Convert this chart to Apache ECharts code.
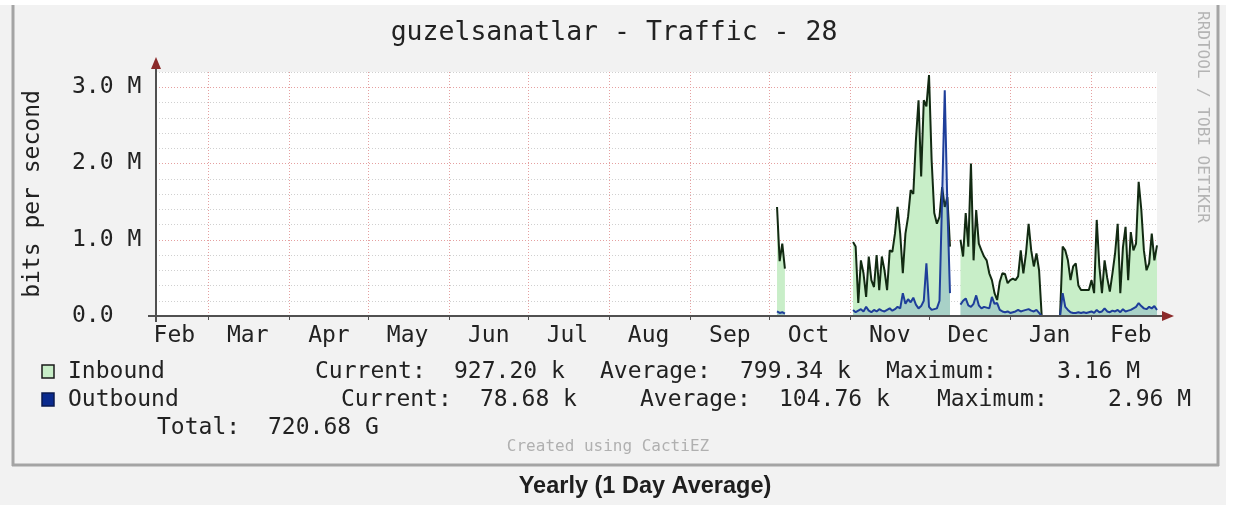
<!DOCTYPE html>
<html lang="en">
  <head>
    <meta charset="utf-8" />
    <title>guzelsanatlar - Traffic - 28</title>
    <style>
      html, body { margin: 0; padding: 0; background: #ffffff; }
      #chart-container { width: 1249px; height: 507px; }
    </style>
  </head>
  <body>
    <div id="chart-container"></div>
    <script src="https://cdn.jsdelivr.net/npm/echarts@6/dist/echarts.min.js"></script>
    <script>
      // one category per day, Feb 9 2013 .. Feb 26 2014
      var startDate = "2013-02-09";
      var dayCount = 383;
      var monthNames = ["Jan", "Feb", "Mar", "Apr", "May", "Jun", "Jul", "Aug", "Sep", "Oct", "Nov", "Dec"];

      // daily averages in Mbit/s, one array per stretch of data
      var inOct = [1.43, 0.72, 0.95, 0.62];
      var outOct = [0.06, 0.04, 0.05, 0.03];

      var inNov = [0.97, 0.91, 0.17, 0.73, 0.56, 0.25, 0.78, 0.47, 0.38, 0.80,
                   0.34, 0.78, 0.60, 0.34, 0.86, 0.84, 1.08, 1.43, 1.08, 0.56,
                   1.08, 1.30, 1.65, 1.60, 2.31, 2.83, 1.83, 2.83, 2.75, 3.16,
                   2.04, 1.35, 1.21, 1.30, 1.69, 1.43, 1.56, 0.91];
      var outNov = [0.08, 0.05, 0.07, 0.09, 0.06, 0.12, 0.07, 0.05, 0.08, 0.06,
                    0.09, 0.07, 0.06, 0.08, 0.10, 0.07, 0.09, 0.12, 0.10, 0.30,
                    0.16, 0.22, 0.18, 0.24, 0.15, 0.10, 0.13, 0.20, 0.69, 0.12,
                    0.08, 0.09, 0.10, 0.20, 1.55, 2.96, 1.45, 0.30];

      var inDec = [1.00, 0.78, 1.35, 0.91, 2.00, 0.73, 1.39, 0.95, 0.86, 0.78,
                   0.73, 0.56, 0.47, 0.30, 0.21, 0.45, 0.56, 0.55, 0.43, 0.47,
                   0.49, 0.47, 0.52, 0.86, 0.56, 0.82, 1.21, 0.86, 0.65, 0.82,
                   0.60, 0, 0, 0, 0, 0, 0, 0, 0];
      var outDec = [0.15, 0.20, 0.23, 0.14, 0.12, 0.16, 0.27, 0.14, 0.10, 0.12,
                    0.11, 0.10, 0.25, 0.16, 0.17, 0.08, 0.06, 0.05, 0.06, 0.04,
                    0.05, 0.06, 0.08, 0.06, 0.07, 0.08, 0.09, 0.07, 0.06, 0.08,
                    0.04, 0, 0, 0, 0, 0, 0, 0, 0];

      var inJan = [0.91, 0.86, 0.73, 0.47, 0.65, 0.69, 0.40, 0.34, 0.34, 0.34,
                   0.34, 0.47, 0.30, 1.26, 0.65, 0.30, 0.73, 0.50, 0.32, 0.56,
                   0.82, 1.21, 0.30, 0.90, 1.17, 0.47, 1.10, 0.86, 0.95, 1.76,
                   1.40, 0.86, 0.60, 0.69, 1.08, 0.73, 0.927];
      var outJan = [0.30, 0.12, 0.08, 0.05, 0.04, 0.04, 0.05, 0.04, 0.05, 0.04,
                    0.05, 0.06, 0.04, 0.08, 0.05, 0.06, 0.10, 0.06, 0.05, 0.07,
                    0.06, 0.08, 0.05, 0.09, 0.06, 0.07, 0.08, 0.10, 0.12, 0.17,
                    0.13, 0.10, 0.09, 0.12, 0.10, 0.13, 0.0787];

      var segmentStarts = ["2013-10-04", "2013-11-02", "2013-12-13", "2014-01-21"];

      var inboundStats = ["927.20 k", "799.34 k", "3.16 M"];
      var outboundStats = ["78.68 k", "104.76 k", "2.96 M"];
      var totalText = "720.68 G";

      var days = [];
      var t0 = Date.UTC(2013, 1, 9);
      for (var i = 0; i < dayCount; i++) {
        days.push(new Date(t0 + i * 86400000).toISOString().slice(0, 10));
      }

      function place(target, start, values) {
        var i0 = days.indexOf(start);
        for (var k = 0; k < values.length; k++) target[i0 + k] = values[k];
      }
      var inbound = days.map(function () { return "-"; });
      var outbound = days.map(function () { return "-"; });
      [inOct, inNov, inDec, inJan].forEach(function (v, k) { place(inbound, segmentStarts[k], v); });
      [outOct, outNov, outDec, outJan].forEach(function (v, k) { place(outbound, segmentStarts[k], v); });

      var mono = "DejaVu Sans Mono";
      var textColor = "#222222";
      var axisGray = "#505050";
      var arrowRed = "#8b2b2b";
      function isMonthStart(idx, val) { return val.slice(8) === "01"; }
      function legendText(x, y, text) {
        return { type: "text", x: x, y: y, style: { text: text, fill: textColor, font: "23px '" + mono + "'", verticalAlign: "middle" } };
      }

      var dom = document.getElementById("chart-container");
      var myChart = echarts.init(dom, null, { renderer: "canvas" });

      var option = {
        animation: false,
        backgroundColor: "transparent",
        grid: {
          left: 156, right: 92, top: 72, bottom: 191,
          show: true, backgroundColor: "#ffffff", borderWidth: 0
        },
        xAxis: {
          type: "category",
          data: days,
          boundaryGap: false,
          axisLine: { show: false },
          axisTick: { show: true, interval: isMonthStart, length: 4, lineStyle: { color: axisGray } },
          splitLine: { show: true, interval: isMonthStart, lineStyle: { color: "#e5a0a0", type: [1, 2], width: 1 } },
          axisLabel: {
            interval: function (idx, val) { return val.slice(8) === "16"; },
            formatter: function (val) { return monthNames[+val.slice(5, 7) - 1]; },
            color: textColor, fontFamily: mono, fontSize: 23, margin: 9
          }
        },
        yAxis: {
          type: "value",
          min: 0, max: 3.2, interval: 0.2,
          name: "bits per second",
          nameLocation: "middle",
          nameRotate: 90,
          nameGap: 111,
          nameTextStyle: { color: textColor, fontFamily: mono, fontSize: 23 },
          axisLine: { show: false },
          axisTick: { show: false },
          splitLine: {
            show: true,
            lineStyle: { color: ["#e5a0a0", "#d0d0d0", "#d0d0d0", "#d0d0d0", "#d0d0d0"], type: [1, 2], width: 1 }
          },
          axisLabel: {
            align: "left", margin: 84,
            color: textColor, fontFamily: mono, fontSize: 23,
            formatter: function (v) {
              var m = Math.round(v);
              if (Math.abs(v - m) > 1e-6) return "";
              return m === 0 ? "0.0" : m.toFixed(1) + " M";
            }
          }
        },
        series: [
          {
            name: "Inbound",
            type: "line",
            data: inbound,
            showSymbol: false,
            connectNulls: false,
            z: 2,
            lineStyle: { color: "#122a12", width: 2 },
            areaStyle: { color: "#c8eec8", opacity: 1 }
          },
          {
            name: "Outbound",
            type: "line",
            data: outbound,
            showSymbol: false,
            connectNulls: false,
            z: 3,
            lineStyle: { color: "#1e3e9a", width: 2 },
            areaStyle: { color: "rgba(40, 90, 200, 0.28)" }
          }
        ],
        graphic: [
          { type: "rect", z: -100, silent: true, shape: { x: 0, y: 5, width: 1226, height: 500 }, style: { fill: "#f2f2f2" } },
          { type: "line", z: -90, shape: { x1: 13, y1: 5, x2: 13, y2: 466 }, style: { stroke: "#a4a4a4", lineWidth: 3 } },
          { type: "line", z: -90, shape: { x1: 1218, y1: 5, x2: 1218, y2: 466 }, style: { stroke: "#a4a4a4", lineWidth: 3 } },
          { type: "line", z: -90, shape: { x1: 12, y1: 465, x2: 1219, y2: 465 }, style: { stroke: "#a4a4a4", lineWidth: 3 } },
          // axis lines with their arrow heads
          { type: "line", z: 50, shape: { x1: 148, y1: 316, x2: 1163, y2: 316 }, style: { stroke: axisGray, lineWidth: 2 } },
          { type: "line", z: 50, shape: { x1: 156, y1: 322, x2: 156, y2: 68 }, style: { stroke: axisGray, lineWidth: 2 } },
          { type: "polygon", z: 51, shape: { points: [[1162, 311], [1162, 321], [1174, 316]] }, style: { fill: arrowRed } },
          { type: "polygon", z: 51, shape: { points: [[151, 69], [161, 69], [156, 57]] }, style: { fill: arrowRed } },
          {
            type: "text", x: 614, y: 33,
            style: { text: "guzelsanatlar - Traffic - 28", fill: textColor, font: "26.5px '" + mono + "'", align: "center", verticalAlign: "middle" }
          },
          {
            type: "text", x: 1202, y: 117, rotation: -Math.PI / 2,
            style: { text: "RRDTOOL / TOBI OETIKER", fill: "#b4b4b4", font: "16px '" + mono + "'", align: "center", verticalAlign: "middle" }
          },
          { type: "rect", shape: { x: 42, y: 365, width: 12, height: 13 }, style: { fill: "#c8eec8", stroke: "#1a1a1a", lineWidth: 1.5 } },
          { type: "rect", shape: { x: 42, y: 393, width: 12, height: 13 }, style: { fill: "#0a2a8e", stroke: "#0a1a50", lineWidth: 1.5 } },
          legendText(68, 372, "Inbound"),
          legendText(315, 372, "Current:"),
          legendText(454, 372, inboundStats[0]),
          legendText(600, 372, "Average:"),
          legendText(740, 372, inboundStats[1]),
          legendText(886, 372, "Maximum:"),
          legendText(1057, 372, inboundStats[2]),
          legendText(68, 400, "Outbound"),
          legendText(341, 400, "Current:"),
          legendText(480, 400, outboundStats[0]),
          legendText(640, 400, "Average:"),
          legendText(779, 400, outboundStats[1]),
          legendText(937, 400, "Maximum:"),
          legendText(1108, 400, outboundStats[2]),
          legendText(157, 428, "Total:"),
          legendText(268, 428, totalText),
          {
            type: "text", x: 608, y: 447,
            style: { text: "Created using CactiEZ", fill: "#b0b0b0", font: "16px '" + mono + "'", align: "center", verticalAlign: "middle" }
          },
          {
            type: "text", x: 645, y: 487,
            style: { text: "Yearly (1 Day Average)", fill: "#1e1e1e", font: "bold 23.5px 'Liberation Sans'", align: "center", verticalAlign: "middle" }
          }
        ]
      };

      myChart.setOption(option);
      window.addEventListener("resize", myChart.resize);
    </script>
  </body>
</html>
